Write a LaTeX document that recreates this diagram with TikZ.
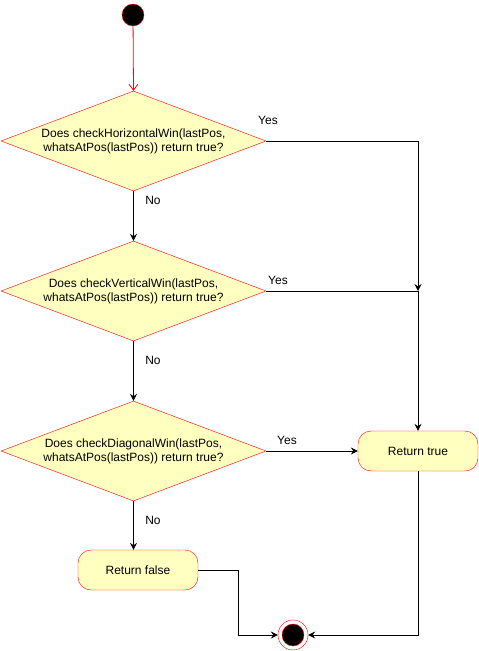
\documentclass[tikz,border=0pt]{standalone}
\usepackage{fontspec}
\setmainfont{Liberation Sans}
\usetikzlibrary{shapes.geometric,arrows.meta}
\definecolor{fillY}{HTML}{FFFFC0}
\definecolor{strokeR}{HTML}{FF0000}
\tikzset{
  every node/.style={font=\fontsize{12}{14}\selectfont},
  decision/.style={diamond, aspect=2.65, draw=strokeR, fill=fillY, minimum width=265pt, minimum height=100pt, inner sep=-8pt, align=center},
  action/.style={rectangle, rounded corners=13pt, draw=strokeR, fill=fillY, minimum width=120pt, minimum height=40pt, inner sep=0pt},
  arr/.style={draw=black, line width=0.8pt, -{Stealth[length=7pt,width=7pt,inset=2.5pt]}},
  lbl/.style={inner sep=0pt}
}
\begin{document}
\begin{tikzpicture}[x=1pt,y=-1pt]
\useasboundingbox (0,0) rectangle (479,651);
% start
\node[circle, draw=strokeR, fill=black, minimum size=22pt, inner sep=0pt] (start) at (133,15) {};
% decisions
\node[decision] (d1) at (133.5,141) {Does checkHorizontalWin(lastPos,\\whatsAtPos(lastPos)) return true?};
\node[decision] (d2) at (133.5,291) {Does checkVerticalWin(lastPos,\\whatsAtPos(lastPos)) return true?};
\node[decision] (d3) at (133.5,451) {Does checkDiagonalWin(lastPos,\\whatsAtPos(lastPos)) return true?};
% actions
\node[action] (rt) at (418,451) {Return true};
\node[action] (rf) at (138,570) {Return false};
% end
\node[circle, draw=strokeR, fill=white, minimum size=30pt, inner sep=0pt] (end) at (293,635) {};
\node[circle, draw=strokeR, fill=black, minimum size=22pt, inner sep=0pt] (endin) at (end.center) {};
% junctions
\coordinate (j) at (418,291);
\coordinate (k) at (238,635);
% edges
\draw[draw=strokeR, line width=0.8pt, -{Straight Barb[length=6pt,width=9pt]}] (start) -- (d1.north);
\draw[arr] (d1.south) -- (d2.north);
\draw[arr] (d2.south) -- (d3.north);
\draw[arr] (d3.south) -- (d3.south |- rf.north);
\draw[arr] (d1.east) -| (j);
\draw[arr] (d2.east) -- (j) -- (rt.north);
\draw[arr] (d3.east) -- (rt.west);
\draw[arr] (rt.south) |- (end.east);
\draw[arr] (rf.east) -| (k) -- (end.west);
% labels
\node[lbl] (y1) at (268,120) {Yes};
\node[lbl] (y2) at (278,280) {Yes};
\node[lbl] (y3) at (287,440) {Yes};
\node[lbl] (n1) at (153,200) {No};
\node[lbl] (n2) at (153,360) {No};
\node[lbl] (n3) at (153,520) {No};
\end{tikzpicture}
\end{document}
